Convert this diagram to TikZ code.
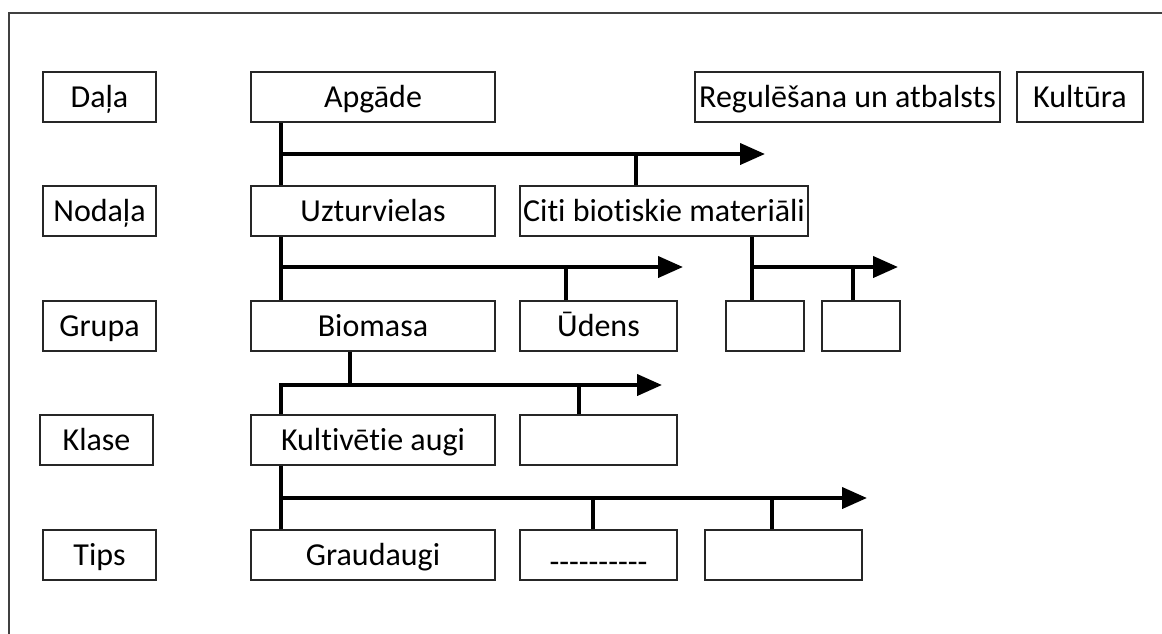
\documentclass[tikz,border=0pt]{standalone}
\usepackage{fontspec}
\setmainfont{Carlito}[Ligatures=NoCommon]
\newfontfamily\plainfont{Carlito}[Ligatures=NoCommon]
\usetikzlibrary{arrows.meta}
\begin{document}
\begin{tikzpicture}[x=1pt,y=-1pt,
  bx/.style={draw=black!85, line width=1.4pt, minimum height=50pt, inner sep=0pt,
    text height=20.5pt, text depth=0pt,
    font=\fontsize{32}{38}\selectfont},
  conn/.style={line width=4pt, black},
  arr/.style={conn, -{Triangle[length=25pt,width=21pt]}},
  frame/.style={draw=black!75, line width=2.2pt}]
\useasboundingbox (0,0) rectangle (1162,633);
\draw[frame] (9,640) -- (9,13) -- (1170,13);
% left column
\node[bx, minimum width=113pt] (daja) at (99.5,97) {Daļa};
\node[bx, minimum width=113pt] (nod) at (99.5,211) {Nodaļa};
\node[bx, minimum width=113pt] (grp) at (99.5,326) {Grupa};
\node[bx, minimum width=113pt] (kls) at (96.5,440) {Klase};
\node[bx, minimum width=113pt] (tip) at (99.5,555) {Tips};
% main column
\node[bx, minimum width=244pt] (apg) at (373,97) {Apgāde};
\node[bx, minimum width=244pt] (uzt) at (373,211) {Uzturvielas};
\node[bx, minimum width=244pt] (bio) at (373,326) {Biomasa};
\node[bx, minimum width=244pt] (kul) at (373,440) {Kultivētie augi};
\node[bx, minimum width=244pt] (gra) at (373,555) {Graudaugi};
% others
\node[bx, minimum width=305pt] (reg) at (847.5,97) {Regulēšana un atbalsts};
\node[bx, minimum width=126pt] (kult) at (1080,97) {Kultūra};
\node[bx, minimum width=288pt] (cit) at (664,211) {Citi biotiskie materiāli};
\node[bx, minimum width=157pt] (ude) at (598.5,326) {Ūdens};
\node[bx, minimum width=78pt] (e1) at (765,326) {};
\node[bx, minimum width=78pt] (e2) at (861,326) {};
\node[bx, minimum width=157pt] (ek) at (598.5,440) {};
\node[bx, minimum width=157pt] (dsh) at (598.5,555) {\raisebox{-7pt}{\plainfont ----------}};
\node[bx, minimum width=157pt] (e3) at (783.5,555) {};
% row 1 connectors
\coordinate (j1) at (282,154);
\coordinate (t1) at (765,154);
\draw[conn] ([xshift=31pt]apg.south west) -- ([xshift=31pt]uzt.north west);
\draw[arr] (j1) -- (t1);
\draw[conn] ([xshift=117pt]cit.north west) -- ([xshift=117pt]cit.north west |- j1);
% row 2 connectors
\coordinate (j2) at (282,267);
\coordinate (t2) at (683,267);
\draw[conn] ([xshift=31pt]uzt.south west) -- ([xshift=31pt]bio.north west);
\draw[arr] (j2) -- (t2);
\draw[conn] ([xshift=-32.5pt]ude.north) -- ([xshift=-32.5pt]ude.north |- j2);
\coordinate (j2b) at (752,267);
\coordinate (t2b) at (898,267);
\draw[conn] (cit.south -| j2b) -- (e1.north -| j2b);
\draw[arr] (j2b) -- (t2b);
\draw[conn] ([xshift=-8pt]e2.north) -- ([xshift=-8pt]e2.north |- j2b);
% row 3 connectors
\coordinate (j3) at (350,385);
\coordinate (t3) at (662,385);
\draw[conn] ([xshift=-23pt]bio.south) -- ([xshift=-23pt]bio.south |- j3);
\draw[arr, line join=miter] ([xshift=31pt]kul.north west) |- (t3);
\draw[conn] ([xshift=-19.5pt]ek.north) -- ([xshift=-19.5pt]ek.north |- j3);
% row 4 connectors
\coordinate (j4) at (282,498);
\coordinate (t4) at (867,498);
\draw[conn] ([xshift=31pt]kul.south west) -- ([xshift=31pt]gra.north west);
\draw[arr] (j4) -- (t4);
\draw[conn] ([xshift=-5.5pt]dsh.north) -- ([xshift=-5.5pt]dsh.north |- j4);
\draw[conn] ([xshift=-11.5pt]e3.north) -- ([xshift=-11.5pt]e3.north |- j4);
\end{tikzpicture}
\end{document}
